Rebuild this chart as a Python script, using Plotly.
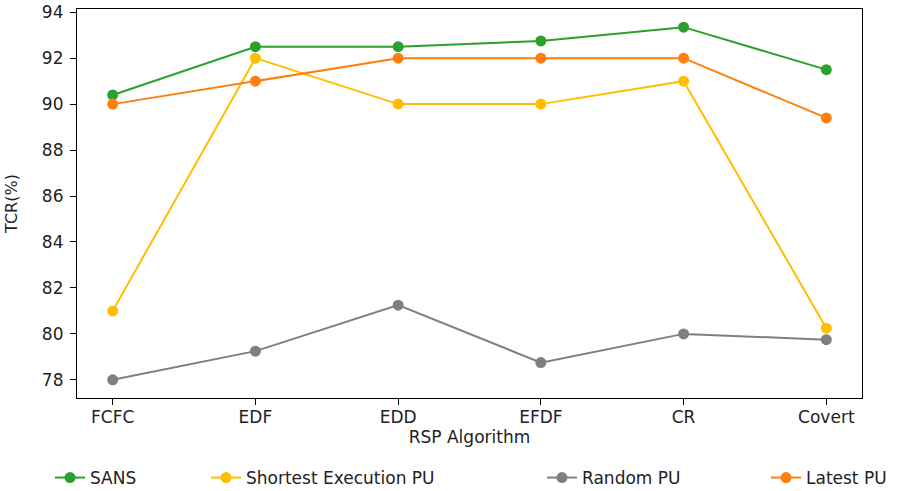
import plotly.graph_objects as go

categories = ["FCFC", "EDF", "EDD", "EFDF", "CR", "Covert"]
sans = [90.4, 92.5, 92.5, 92.75, 93.35, 91.5]
shortest = [81.0, 92.0, 90.0, 90.0, 91.0, 80.25]
random_pu = [78.0, 79.25, 81.25, 78.75, 80.0, 79.75]
latest = [90.0, 91.0, 92.0, 92.0, 92.0, 89.4]
y_ticks = [78, 80, 82, 84, 86, 88, 90, 92, 94]

series = [
    ("SANS", sans, "#2ca02c"),
    ("Shortest Execution PU", shortest, "#ffbf00"),
    ("Random PU", random_pu, "#7f7f7f"),
    ("Latest PU", latest, "#ff7f0e"),
]

PL, PR, PT, PB = 77, 862, 9, 398
W, H = 913, 491
FONT = "DejaVu Sans"
TXT = "#222222"

fig = go.Figure()
x_idx = list(range(len(categories)))
legend_names = ["legend", "legend2", "legend3", "legend4"]
for (name, vals, col), lg in zip(series, legend_names):
    fig.add_trace(go.Scatter(
        x=x_idx, y=vals, name=name, mode="lines+markers",
        line=dict(color=col, width=2),
        marker=dict(color=col, size=11),
        legend=lg,
    ))

axis_common = dict(
    showline=True, linecolor="black", linewidth=1.2, mirror=True,
    ticks="outside", ticklen=6, tickcolor="black", tickwidth=1,
    showgrid=False, zeroline=False, automargin=False,
    ticklabeloverflow="allow",
    tickfont=dict(family=FONT, size=17, color=TXT),
)

fig.update_xaxes(
    tickmode="array", tickvals=x_idx, ticktext=categories,
    range=[-0.25, 5.25],
    ticklabelstandoff=-3,
    title=dict(text="RSP Algorithm", font=dict(family=FONT, size=17, color=TXT), standoff=5),
    **axis_common,
)
fig.update_yaxes(
    tickmode="array", tickvals=y_ticks,
    range=[77.21, 94.14],
    ticklabelstandoff=3,
    title=dict(text="TCR(%)", font=dict(family=FONT, size=16, color=TXT), standoff=20),
    **axis_common,
)

# legend text start positions (pixels)
text_starts = [92, 248, 584, 808]
legend_y = 1 - (478 - PT) / (PB - PT)
layout_legends = {}
for lg, ts in zip(legend_names, text_starts):
    layout_legends[lg] = dict(
        x=(ts - 42 - PL) / (PR - PL), xanchor="left",
        y=legend_y, yanchor="middle",
        orientation="h",
        font=dict(family=FONT, size=17, color=TXT),
        bgcolor="rgba(0,0,0,0)",
    )

fig.update_layout(
    width=W, height=H,
    paper_bgcolor="white", plot_bgcolor="white",
    margin=dict(l=PL, r=W - PR, t=PT, b=H - PB, autoexpand=False),
    font=dict(family=FONT, color=TXT),
    showlegend=True,
    **layout_legends,
)

fig.write_html(
    "out.html",
    config={"displayModeBar": False},
    post_script="document.body.style.margin='0px';",
)
